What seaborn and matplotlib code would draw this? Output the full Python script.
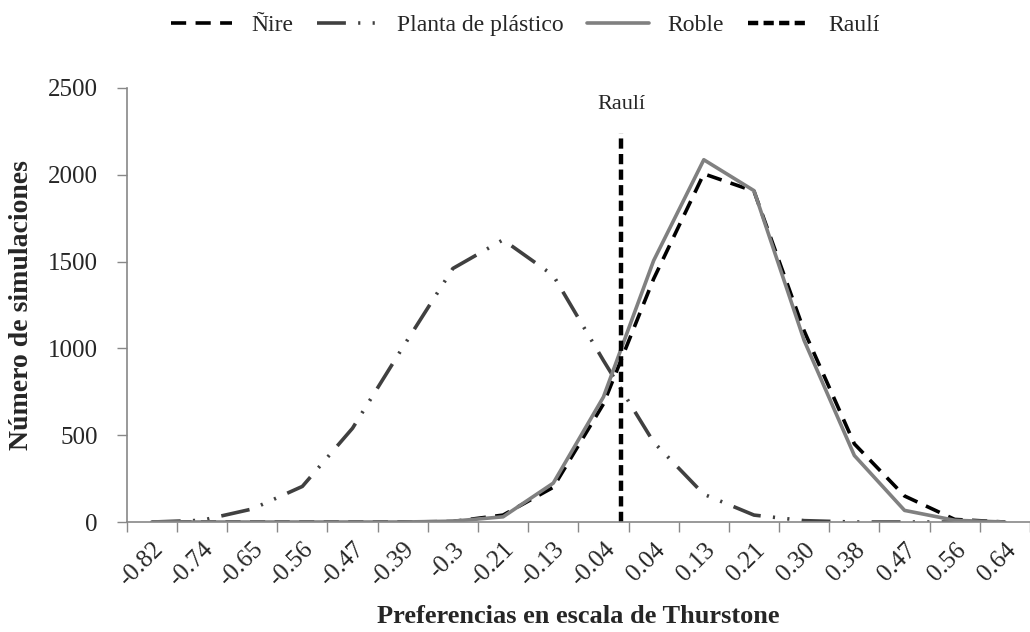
import matplotlib
matplotlib.use("Agg")
import matplotlib.pyplot as plt
import seaborn as sns
import numpy as np

# categorias del eje x (escala de Thurstone)
categorias = ['-0.82', '-0.74', '-0.65', '-0.56', '-0.47', '-0.39', '-0.3', '-0.21', '-0.13',
              '-0.04', '0.04', '0.13', '0.21', '0.30', '0.38', '0.47', '0.56', '0.64']

nire = [0, 0, 0, 0, 0, 0, 3, 40, 200, 680, 1400, 2005, 1905, 1100, 450, 150, 15, 0]
planta = [0, 10, 75, 205, 540, 1005, 1460, 1625, 1420, 930, 460, 160, 40, 8, 0, 0, 0, 0]
roble = [0, 0, 0, 0, 0, 0, 5, 30, 224, 720, 1505, 2086, 1908, 1045, 383, 67, 10, 0]

# posicion de Raulí en el eje de categorias y altura de la linea
rauli_pos = 9.35
rauli_alto = 2240

sns.set_style("white")
plt.rcParams['font.family'] = ['Liberation Serif', 'DejaVu Serif']

fig = plt.figure(figsize=(10.3, 6.32), dpi=100)
ax = fig.add_axes([0.123, 0.174, 0.877, 0.687])

x = np.arange(len(categorias))
sns.lineplot(x=x, y=nire, ax=ax, color='black', lw=2.6,
             linestyle=(0, (4.2, 2.6)), label='Ñire')
sns.lineplot(x=x, y=planta, ax=ax, color='#404040', lw=2.6,
             linestyle=(0, (8.0, 3.4, 0.6, 3.4, 0.6, 3.4)), label='Planta de plástico')
sns.lineplot(x=x, y=roble, ax=ax, color='#808080', lw=2.6, label='Roble')
ax.plot([rauli_pos, rauli_pos], [0, rauli_alto], color='black', lw=3.2,
        linestyle=(0, (2.3, 1.2)), label='Raulí')
ax.text(rauli_pos, 2405, 'Raulí', ha='center', va='center', fontsize=16)

ax.set_xlim(-0.5, len(categorias) - 0.5)
ax.set_ylim(0, 2500)
ax.set_yticks(np.arange(0, 2501, 500))
ax.set_xticks(x)
ax.set_xticklabels(categorias, rotation=45, ha='right', rotation_mode='anchor')
ax.set_xticks(np.arange(-0.5, len(categorias)), minor=True)
ax.tick_params(axis='x', which='major', length=0, pad=12, labelsize=18)
ax.tick_params(axis='x', which='minor', length=7, width=1, color='#888888', direction='out', bottom=True)
ax.tick_params(axis='y', length=7, width=1, color='#888888', direction='out', left=True, pad=14, labelsize=18)

for s in ['top', 'right']:
    ax.spines[s].set_visible(False)
for s in ['left', 'bottom']:
    ax.spines[s].set_color('#888888')
    ax.spines[s].set_linewidth(1.2)

ax.set_ylabel('Número de simulaciones', fontsize=20, fontweight='bold', labelpad=10)
ax.set_xlabel('Preferencias en escala de Thurstone', fontsize=19, fontweight='bold', labelpad=10)

ax.get_legend().remove()
handles, labels = ax.get_legend_handles_labels()
fig.legend(handles, labels, loc='upper center', bbox_to_anchor=(0.51, 1.01), ncol=4,
           frameon=False, fontsize=17, handlelength=2.6, columnspacing=1.0, handletextpad=0.8)

plt.savefig('out.png', dpi=100)
